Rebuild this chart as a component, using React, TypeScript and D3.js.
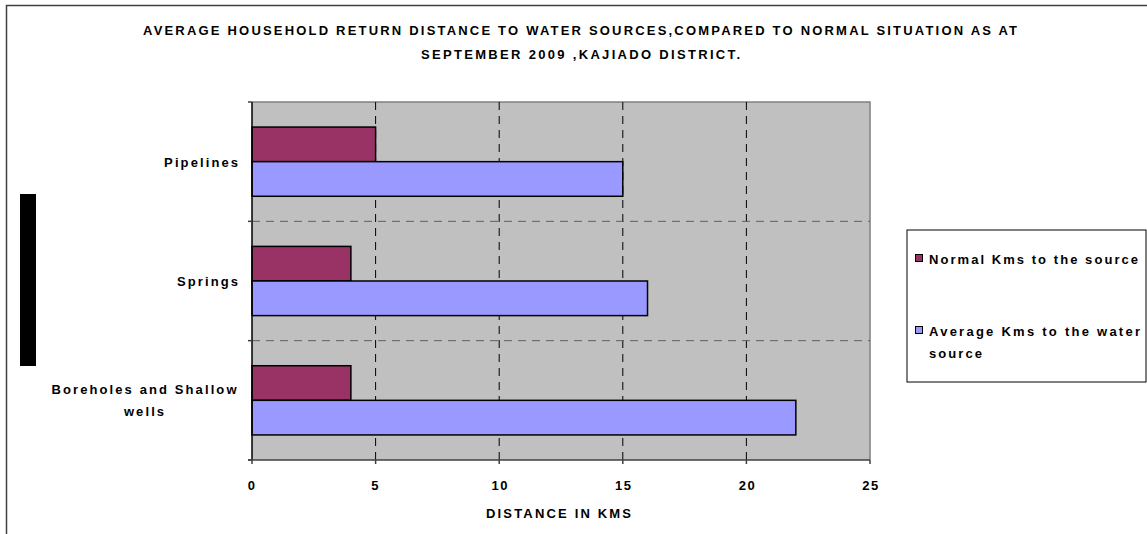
import React from "react";
import * as d3 from "d3";

const categories = ["Pipelines", "Springs", "Boreholes and Shallow wells"];
const categoryLines = [["Pipelines"], ["Springs"], ["Boreholes and Shallow", "wells"]];
const normalKms = [5, 4, 4];
const averageKms = [15, 16, 22];
const xTicks = [0, 5, 10, 15, 20, 25];
const seriesNames = ["Normal Kms to the source", "Average Kms to the water source"];
const seriesColors = ["#993366", "#9999FF"];
const titleLines = [
  "AVERAGE HOUSEHOLD RETURN DISTANCE TO WATER SOURCES,COMPARED TO NORMAL SITUATION AS AT",
  "SEPTEMBER 2009 ,KAJIADO DISTRICT.",
];

const W = 1147;
const H = 534;
const FONT = "'Liberation Sans', Arial, sans-serif";

export default function App() {
  const left = 252, right = 870, top = 102, bottom = 460;
  const x = d3.scaleLinear().domain([0, 25]).range([left, right]);
  const y = d3.scaleBand<string>().domain(categories).range([top, bottom]).padding(0);
  const bw = y.bandwidth();
  const barH = bw * 0.29;
  const off = (bw - 2 * barH) / 2;
  const boundaries = d3.range(categories.length + 1).map((i) => top + i * bw);
  const fs = 13;
  const ls = 2.1;

  return (
    <svg width={W} height={H} style={{ position: "absolute", left: 0, top: 0 }} fontFamily={FONT}>
      <rect x={0} y={0} width={W} height={H} fill="#fff" />
      {/* outer frame */}
      <path d={`M6.5,${H} L6.5,5.5 L${W},5.5`} fill="none" stroke="#404040" strokeWidth={1.5} />
      {/* title */}
      <text x={580} y={35} textAnchor="middle" fontSize={fs} fontWeight="bold" fill="#000"
        textLength={874} lengthAdjust="spacing">{titleLines[0]}</text>
      <text x={580.5} y={59} textAnchor="middle" fontSize={fs} fontWeight="bold" fill="#000"
        textLength={319} lengthAdjust="spacing">{titleLines[1]}</text>
      {/* black bar left */}
      <rect x={20} y={194} width={16} height={172} fill="#000" />
      {/* plot area */}
      <rect x={left} y={top} width={right - left} height={bottom - top} fill="#C0C0C0" />
      <path d={`M${left},${top} L${right},${top} L${right},${bottom}`} fill="none" stroke="#808080" strokeWidth={1.5} />
      {/* vertical gridlines */}
      {xTicks.slice(1, -1).map((t) => (
        <line key={t} x1={x(t)} x2={x(t)} y1={top} y2={bottom} stroke="#000" strokeWidth={1} strokeDasharray="8,6" />
      ))}
      {/* horizontal category separators */}
      {boundaries.slice(1, -1).map((b, i) => (
        <line key={i} x1={left} x2={right} y1={b} y2={b} stroke="#606060" strokeWidth={1} strokeDasharray="8,6" />
      ))}
      {/* bars */}
      {categories.map((c, i) => (
        <g key={c}>
          <rect x={x(0)} y={(y(c) as number) + off} width={x(normalKms[i]) - x(0)} height={barH}
            fill={seriesColors[0]} stroke="#000" strokeWidth={1.5} />
          <rect x={x(0)} y={(y(c) as number) + off + barH} width={x(averageKms[i]) - x(0)} height={barH}
            fill={seriesColors[1]} stroke="#000" strokeWidth={1.5} />
        </g>
      ))}
      {/* axes */}
      <line x1={left} x2={left} y1={top} y2={bottom} stroke="#000" strokeWidth={1.5} />
      <line x1={left - 4} x2={right} y1={bottom} y2={bottom} stroke="#404040" strokeWidth={1.5} />
      {boundaries.map((b, i) => (
        <line key={i} x1={left - 4} x2={left} y1={b} y2={b} stroke="#404040" strokeWidth={1.5} />
      ))}
      {xTicks.map((t) => (
        <g key={t}>
          <line x1={x(t)} x2={x(t)} y1={bottom} y2={bottom + 4} stroke="#404040" strokeWidth={1.5} />
          <text x={x(t) + (t >= 10 ? 1 : 0)} y={490} textAnchor="middle" fontSize={fs} fontWeight="bold" letterSpacing={1.5}>{t}</text>
        </g>
      ))}
      <text x={558.5} y={518} textAnchor="middle" fontSize={fs} fontWeight="bold" textLength={145} lengthAdjust="spacing">DISTANCE IN KMS</text>
      {/* category labels */}
      {categories.map((c, i) => {
        const lines = categoryLines[i];
        const cy = (y(c) as number) + bw / 2;
        const lh = 22;
        const y0 = cy - ((lines.length - 1) * lh) / 2 + 5;
        const cx = lines.length > 1 ? 144 + ls / 2 : 238 + ls;
        return lines.map((ln, j) => (
          <text key={c + j} x={cx} y={y0 + j * lh} textAnchor={lines.length > 1 ? "middle" : "end"}
            fontSize={fs} fontWeight="bold" letterSpacing={ls}>{ln}</text>
        ));
      })}
      {/* legend */}
      <rect x={907} y={230} width={239} height={152} fill="#fff" stroke="#000" strokeWidth={1} />
      <rect x={915.5} y={254.5} width={7} height={7} fill={seriesColors[0]} stroke="#000" strokeWidth={1} />
      <text x={929} y={263.5} fontSize={fs} fontWeight="bold" textLength={209} lengthAdjust="spacing">{seriesNames[0]}</text>
      <rect x={915.5} y={326.5} width={7} height={7} fill={seriesColors[1]} stroke="#000" strokeWidth={1} />
      <text x={929} y={335.5} fontSize={fs} fontWeight="bold" textLength={211} lengthAdjust="spacing">Average Kms to the water</text>
      <text x={929} y={357.5} fontSize={fs} fontWeight="bold" textLength={53} lengthAdjust="spacing">source</text>
    </svg>
  );
}
